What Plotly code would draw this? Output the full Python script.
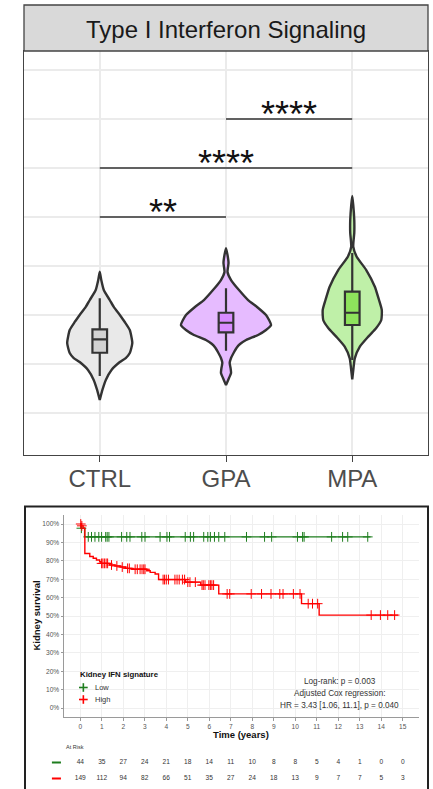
import numpy as np
import plotly.graph_objects as go

FONT = "Liberation Sans, Arial, sans-serif"

# ---------------- Top panel: violin + box ----------------
groups = ["CTRL", "GPA", "MPA"]
group_pos = [1, 2, 3]
violin_fill = ["#E9E9E9", "#E6BBFF", "#BFF0A8"]
box_fill = ["#D2D2D2", "#D88CFF", "#8EE35C"]

# density outlines: value levels and half-widths (x units)
ctrl_vals = [0.442, 0.357, 0.255, 0.153, 0.082, 0.0, -0.071, -0.153, -0.286, -0.388, -0.439, -0.480, -0.561, -0.663, -0.765, -0.867]
ctrl_half = [0.0, 0.012, 0.032, 0.079, 0.111, 0.159, 0.198, 0.238, 0.258, 0.238, 0.206, 0.159, 0.093, 0.048, 0.021, 0.0]
gpa_vals = [0.681, 0.612, 0.531, 0.439, 0.357, 0.255, 0.153, 0.082, 0.0, -0.051, -0.102, -0.153, -0.204, -0.255, -0.296, -0.337, -0.388, -0.439, -0.490, -0.541, -0.592, -0.643, -0.714]
gpa_half = [0.0, 0.012, 0.020, 0.012, 0.040, 0.103, 0.175, 0.246, 0.317, 0.341, 0.357, 0.317, 0.254, 0.159, 0.111, 0.083, 0.060, 0.040, 0.029, 0.036, 0.040, 0.024, 0.0]
mpa_vals = [1.214, 1.122, 0.969, 0.837, 0.697, 0.595, 0.459, 0.289, 0.153, 0.051, -0.051, -0.133, -0.221, -0.323, -0.442, -0.541, -0.656]
mpa_half = [0.0, 0.008, 0.016, 0.016, 0.008, 0.035, 0.111, 0.179, 0.212, 0.234, 0.230, 0.190, 0.127, 0.060, 0.020, 0.010, 0.0]
violin_vals = [ctrl_vals, gpa_vals, mpa_vals]
violin_half = [ctrl_half, gpa_half, mpa_half]

box_q1 = [-0.385, -0.177, -0.102]
box_median = [-0.248, -0.079, 0.023]
box_q3 = [-0.146, 0.023, 0.238]
box_low = [-0.622, -0.364, -0.459]
box_high = [0.170, 0.272, 0.633]

comparisons = [(1, 2), (1, 3), (2, 3)]
comp_y = [1.0, 1.5, 2.0]
comp_labels = ["**", "****", "****"]

# ---------------- Bottom panel: Kaplan-Meier ----------------
low_times = [0, 0.03, 0.2]
low_surv = [1.0, 0.977, 0.93]
low_end = 13.5
low_censor = [0.05, 0.37, 0.52, 0.68, 0.86, 0.99, 1.18, 1.25, 1.33, 1.92, 2.16, 2.31, 2.86, 3.01,
              3.71, 4.03, 4.15, 4.88, 5.12, 5.27, 5.74, 5.93, 6.05, 6.24, 6.44, 6.72, 7.73, 8.57,
              8.9, 10.1, 10.34, 10.41, 11.69, 12.2, 12.44, 13.37]

high_times = [0, 0.05, 0.13, 0.21, 0.44, 0.6, 0.75, 0.9, 0.96, 1.36, 1.61, 1.85, 2.1, 2.4, 3.09,
              3.25, 3.48, 3.64, 4.9, 5.6, 6.44, 10.29, 11.11]
high_surv = [1.0, 0.99, 0.977, 0.84, 0.823, 0.814, 0.804, 0.795, 0.786, 0.777, 0.772, 0.766, 0.759,
             0.754, 0.746, 0.737, 0.728, 0.698, 0.684, 0.668, 0.62, 0.567, 0.505]
high_end = 14.78
high_censor = [0.02, 0.07, 0.99, 1.05, 1.12, 1.2, 1.27, 1.45, 1.7, 1.95, 2.2, 2.28, 2.55, 2.65, 2.78,
               2.87, 2.95, 3.01, 3.85, 3.92, 4.0, 4.1, 4.4, 4.5, 4.6, 4.75, 4.85, 5.0, 5.1, 5.35,
               5.66, 5.72, 5.8, 5.98, 6.05, 6.12, 6.2, 6.83, 6.95, 7.95, 8.43, 8.87, 9.28, 9.43,
               9.91, 10.22, 10.6, 10.8, 11.04, 13.53, 13.96, 14.3, 14.62]

risk_times = list(range(16))
risk_low = [44, 35, 27, 24, 21, 18, 14, 11, 10, 8, 8, 5, 4, 1, 0, 0]
risk_high = [149, 112, 94, 82, 66, 51, 35, 27, 24, 18, 13, 9, 7, 7, 5, 3]

LOW_COL = "#1E7D1E"
HIGH_COL = "#FF0000"
y_ticks_km = [i / 10 for i in range(11)]
y_ticktext_km = [f"{i * 10}%" for i in range(11)]

fig = go.Figure()

# violins (base subplot)
for i in range(3):
    v = np.array(violin_vals[i])
    h = np.array(violin_half[i])
    p = group_pos[i]
    xs = np.concatenate([p + h, (p - h)[::-1]])
    ys = np.concatenate([v, v[::-1]])
    fig.add_trace(go.Scatter(x=xs, y=ys, mode="lines", fill="toself",
                             fillcolor=violin_fill[i],
                             line=dict(color="#333333", width=2.4, shape="spline", smoothing=0.5),
                             xaxis="x", yaxis="y", hoverinfo="skip"))

# significance bars
for (a, b), yv in zip(comparisons, comp_y):
    fig.add_trace(go.Scatter(x=[a, b], y=[yv, yv], mode="lines",
                             line=dict(color="#333333", width=1.6), xaxis="x", yaxis="y",
                             hoverinfo="skip"))

# boxes (overlay subplot, drawn above violins)
for i in range(3):
    fig.add_trace(go.Box(x=[group_pos[i]], q1=[box_q1[i]], median=[box_median[i]], q3=[box_q3[i]],
                         lowerfence=[box_low[i]], upperfence=[box_high[i]], orientation="v",
                         width=0.116, whiskerwidth=0, fillcolor=box_fill[i],
                         line=dict(color="#333333", width=2.2), boxpoints=False,
                         xaxis="x4", yaxis="y4", hoverinfo="skip"))

# KM curves
def step_at(times, surv, t):
    idx = np.searchsorted(np.array(times), t, side="right") - 1
    return np.array(surv)[idx]

for times, surv, end, cens, col in [(low_times, low_surv, low_end, low_censor, LOW_COL),
                                     (high_times, high_surv, high_end, high_censor, HIGH_COL)]:
    fig.add_trace(go.Scatter(x=list(times) + [end], y=list(surv) + [surv[-1]], mode="lines",
                             line=dict(color=col, width=1.4, shape="hv"),
                             xaxis="x2", yaxis="y2", hoverinfo="skip"))
    cy = step_at(times, surv, np.array(cens))
    fig.add_trace(go.Scatter(x=cens, y=cy, mode="markers",
                             marker=dict(symbol="cross-thin-open", size=7, color=col,
                                         line=dict(color=col, width=1)),
                             xaxis="x2", yaxis="y2", hoverinfo="skip"))

# risk table
fig.add_trace(go.Scatter(x=risk_times, y=[1] * 16, mode="text", text=[str(v) for v in risk_low],
                         textfont=dict(size=6.6, color="#333333", family=FONT),
                         xaxis="x3", yaxis="y3", cliponaxis=False, hoverinfo="skip"))
fig.add_trace(go.Scatter(x=risk_times, y=[0] * 16, mode="text", text=[str(v) for v in risk_high],
                         textfont=dict(size=6.6, color="#333333", family=FONT),
                         xaxis="x3", yaxis="y3", cliponaxis=False, hoverinfo="skip"))
for yv, col in [(1, LOW_COL), (0, HIGH_COL)]:
    fig.add_trace(go.Scatter(x=[-1.32, -0.9], y=[yv, yv], mode="lines",
                             line=dict(color=col, width=2.2),
                             xaxis="x3", yaxis="y3", hoverinfo="skip"))

H = 789.0
W = 433.0

def py(p):
    return (H - p) / H

def px(p):
    return p / W

top_dom_y = [py(455), py(51)]
top_dom_x = [px(24), px(428)]
km_dom_x = [px(64.2), px(418.9)]
km_dom_y = [py(717.2), py(514.8)]
T0_PX, PX_PER_YEAR = 80.3, 21.5
tbl_left_px = 40.0
tbl_range = [(tbl_left_px - T0_PX) / PX_PER_YEAR, 15.75]

fig.update_layout(
    width=433, height=789, margin=dict(l=0, r=0, t=0, b=0),
    paper_bgcolor="white", plot_bgcolor="white", showlegend=False,
    font=dict(family=FONT),
    xaxis=dict(domain=top_dom_x, range=[0.4, 3.6], tickvals=group_pos, ticktext=groups,
               showgrid=True, gridcolor="#EBEBEB", gridwidth=1.5, zeroline=False,
               showline=True, mirror=True, linecolor="#444444", linewidth=1.3,
               ticks="outside", ticklen=6, tickwidth=1.3, tickcolor="#444444",
               ticklabelstandoff=-4,
               tickfont=dict(size=24, color="#4D4D4D", family=FONT), anchor="y"),
    yaxis=dict(domain=top_dom_y, range=[-1.4286, 2.6939],
               tickvals=[-1, -0.5, 0, 0.5, 1, 1.5, 2, 2.5], showticklabels=False,
               showgrid=True, gridcolor="#EBEBEB", gridwidth=1.5, zeroline=False,
               showline=True, mirror=True, linecolor="#444444", linewidth=1.3, anchor="x"),
    xaxis4=dict(overlaying="x", range=[0.4, 3.6], visible=False, anchor="y4"),
    yaxis4=dict(overlaying="y", range=[-1.4286, 2.6939], visible=False, anchor="x4"),
    xaxis2=dict(domain=km_dom_x, range=[-0.75, 15.75], tickvals=risk_times,
                showgrid=True, gridcolor="#EFEFEF", gridwidth=0.7, zeroline=False,
                showline=True, linecolor="#9A9A9A", linewidth=1.3,
                ticks="outside", ticklen=2.5, tickwidth=0.8, tickcolor="#9A9A9A",
                tickfont=dict(size=6.6, color="#555555", family=FONT), anchor="y2"),
    yaxis2=dict(domain=km_dom_y, range=[-0.05, 1.05], tickvals=y_ticks_km, ticktext=y_ticktext_km,
                showgrid=True, gridcolor="#EFEFEF", gridwidth=0.7, zeroline=False,
                showline=True, linecolor="#9A9A9A", linewidth=1.3,
                ticks="outside", ticklen=2.5, tickwidth=0.8, tickcolor="#9A9A9A",
                tickfont=dict(size=6.6, color="#555555", family=FONT), anchor="x2"),
    xaxis3=dict(domain=[px(tbl_left_px), km_dom_x[1]], range=tbl_range, visible=False, anchor="y3"),
    yaxis3=dict(domain=[py(786.5), py(754.5)], range=[-0.5, 1.5], visible=False, anchor="x3"),
)

shapes = [
    # facet strip
    dict(type="rect", xref="paper", yref="paper", x0=top_dom_x[0], x1=top_dom_x[1],
         y0=top_dom_y[1], y1=py(5), fillcolor="#D9D9D9", line=dict(color="#444444", width=1.3)),
    # frame of KM figure
    dict(type="rect", xref="paper", yref="paper", x0=px(25), x1=px(428), y0=py(791), y1=py(506.5),
         fillcolor="rgba(0,0,0,0)", line=dict(color="#222222", width=2)),
]
# legend key crosses
for yy, col in [(687.5, LOW_COL), (699.5, HIGH_COL)]:
    shapes.append(dict(type="line", xref="paper", yref="paper", x0=px(79), x1=px(87.7),
                       y0=py(yy), y1=py(yy), line=dict(color=col, width=1.6)))
    shapes.append(dict(type="line", xref="paper", yref="paper", x0=px(83.35), x1=px(83.35),
                       y0=py(yy - 4.3), y1=py(yy + 4.3), line=dict(color=col, width=1.6)))
fig.update_layout(shapes=shapes)

ann = [
    dict(text="Type I Interferon Signaling", xref="paper", yref="paper",
         x=(top_dom_x[0] + top_dom_x[1]) / 2, y=py(29.5), xanchor="center", yanchor="middle",
         showarrow=False, font=dict(size=24, color="#1A1A1A", family=FONT)),
    dict(text="<b>Kidney survival</b>", xref="paper", yref="paper", x=px(35.5), y=py(616),
         textangle=-90, xanchor="center", yanchor="middle", showarrow=False,
         font=dict(size=9.5, color="#111111", family=FONT)),
    dict(text="<b>Time (years)</b>", xref="paper", yref="paper", x=px(241.5), y=py(734.3),
         xanchor="center", yanchor="middle", showarrow=False,
         font=dict(size=9.5, color="#111111", family=FONT)),
    dict(text="<b>Kidney IFN signature</b>", xref="paper", yref="paper", x=px(77.5), y=py(674),
         xanchor="left", yanchor="middle", showarrow=False,
         font=dict(size=7.8, color="#111111", family=FONT)),
    dict(text="Low", xref="paper", yref="paper", x=px(92.5), y=py(687.5),
         xanchor="left", yanchor="middle", showarrow=False,
         font=dict(size=7.5, color="#333333", family=FONT)),
    dict(text="High", xref="paper", yref="paper", x=px(92.5), y=py(699.5),
         xanchor="left", yanchor="middle", showarrow=False,
         font=dict(size=7.5, color="#333333", family=FONT)),
    dict(text="Log-rank: p = 0.003", xref="paper", yref="paper", x=px(339.5), y=py(681.7),
         xanchor="center", yanchor="middle", showarrow=False,
         font=dict(size=8.2, color="#333333", family=FONT)),
    dict(text="Adjusted Cox regression:", xref="paper", yref="paper", x=px(339.5), y=py(693.3),
         xanchor="center", yanchor="middle", showarrow=False,
         font=dict(size=8.2, color="#333333", family=FONT)),
    dict(text="HR = 3.43 [1.06, 11.1], p = 0.040", xref="paper", yref="paper", x=px(339.5), y=py(705),
         xanchor="center", yanchor="middle", showarrow=False,
         font=dict(size=8.2, color="#333333", family=FONT)),
    dict(text="At Risk", xref="paper", yref="paper", x=px(64), y=py(747),
         xanchor="left", yanchor="middle", showarrow=False,
         font=dict(size=5.5, color="#333333", family=FONT)),
]
for (a, b), yv, lab in zip(comparisons, comp_y, comp_labels):
    ann.append(dict(text=lab, xref="x", yref="y", x=(a + b) / 2, y=yv, xanchor="center",
                    yanchor="middle", yshift=5, showarrow=False,
                    font=dict(size=36, color="#111111", family=FONT)))
fig.update_layout(annotations=ann)

fig.write_html("out.html")
